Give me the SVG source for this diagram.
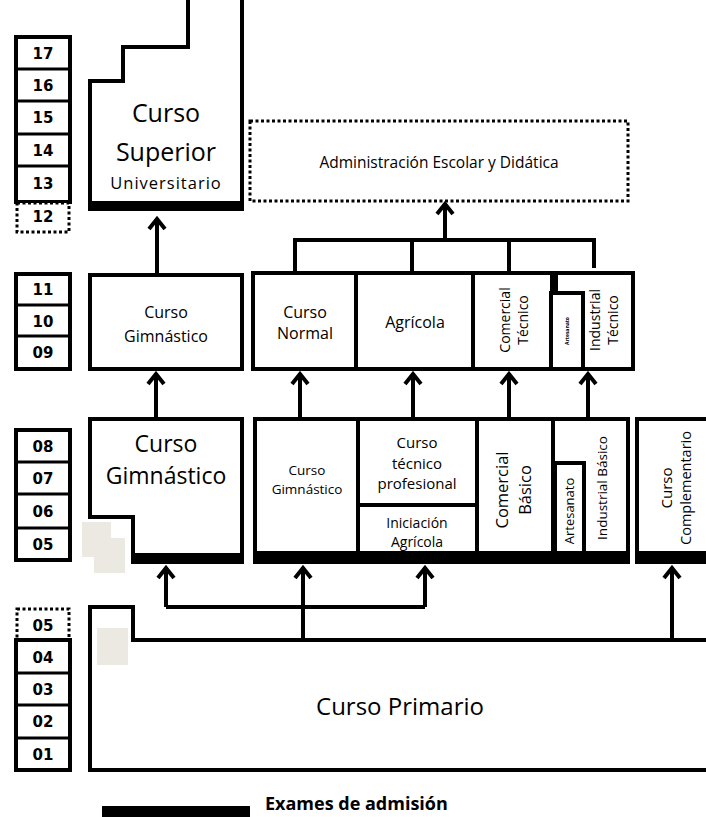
<svg xmlns="http://www.w3.org/2000/svg" width="706" height="817" viewBox="0 0 706 817">
<defs>
<style>
.bx{fill:#fff;stroke:#000;stroke-width:4}
.ln{fill:none;stroke:#000;stroke-width:4}
.dv{fill:none;stroke:#000;stroke-width:3}
.dot{fill:#fff;stroke:#000;stroke-width:3;stroke-dasharray:3 2.5}
.bar{fill:#000}
.gr{fill:#ebe9e1}
.num{font-family:"DejaVu Sans",sans-serif;font-weight:bold;font-size:15px;text-anchor:middle;fill:#000}
.t{font-family:"Open Sans","Noto Sans",sans-serif;text-anchor:middle;fill:#000}
.ar{fill:none;stroke:#000;stroke-width:4}
</style>
<marker id="ah" viewBox="-14 -10 16 20" markerWidth="16" markerHeight="20" refX="0" refY="0" orient="auto" markerUnits="userSpaceOnUse">
<path d="M-11,-8 L-1,0 L-11,8" fill="none" stroke="#000" stroke-width="4"/>
</marker>
</defs>

<g id="years">
<rect class="bx" x="16" y="37" width="54" height="165"/>
<path class="dv" d="M16,69H70M16,101H70M16,134H70M16,166H70"/>
<rect class="dot" x="17" y="203" width="52" height="29"/>
<text class="num" x="43" y="59">17</text>
<text class="num" x="43" y="91">16</text>
<text class="num" x="43" y="123">15</text>
<text class="num" x="43" y="156">14</text>
<text class="num" x="43" y="189">13</text>
<text class="num" x="43" y="222">12</text>

<rect class="bx" x="16" y="274" width="54" height="95"/>
<path class="dv" d="M16,305H70M16,336H70"/>
<text class="num" x="43" y="295">11</text>
<text class="num" x="43" y="327">10</text>
<text class="num" x="43" y="358">09</text>

<rect class="bx" x="16" y="430" width="54" height="130"/>
<path class="dv" d="M16,462H70M16,494H70M16,528H70"/>
<text class="num" x="43" y="452">08</text>
<text class="num" x="43" y="484">07</text>
<text class="num" x="43" y="517">06</text>
<text class="num" x="43" y="550">05</text>

<rect class="dot" x="17" y="609" width="52" height="31"/>
<rect class="bx" x="16" y="640" width="54" height="130"/>
<path class="dv" d="M16,673H70M16,705H70M16,738H70"/>
<text class="num" x="43" y="631">05</text>
<text class="num" x="43" y="663">04</text>
<text class="num" x="43" y="695">03</text>
<text class="num" x="43" y="727">02</text>
<text class="num" x="43" y="760">01</text>
</g>

<g id="curso-superior">
<path class="bx" d="M90,205 L90,81 L123,81 L123,47 L188,47 L188,-5 L242,-5 L242,205 Z"/>
<rect class="bar" x="88" y="201" width="156" height="10"/>
<text class="t" x="166" y="122" font-size="25">Curso</text>
<text class="t" x="166" y="161" font-size="25">Superior</text>
<text class="t" x="166" y="189" font-size="16.5" letter-spacing="1">Universitario</text>
</g>

<g id="administracion">
<rect class="dot" x="250" y="121" width="378" height="80"/>
<text class="t" x="439" y="168" font-size="15.5">Administración Escolar y Didática</text>
</g>

<g id="gimnastico-sup">
<rect class="bx" x="90" y="275" width="152" height="94"/>
<text class="t" x="166" y="318" font-size="16">Curso</text>
<text class="t" x="166" y="342" font-size="16">Gimnástico</text>
</g>

<g id="curso-normal">
<rect class="bx" x="253" y="273" width="103" height="96"/>
<text class="t" x="305" y="318" font-size="16">Curso</text>
<text class="t" x="305" y="339" font-size="16">Normal</text>
</g>
<g id="agricola">
<rect class="bx" x="356" y="273" width="117" height="96"/>
<text class="t" x="415" y="328" font-size="16">Agrícola</text>
</g>
<g id="comercial-tecnico">
<rect class="bx" x="473" y="273" width="79" height="96"/>
<text class="t" font-size="14" transform="translate(510,320) rotate(-90)">Comercial</text>
<text class="t" font-size="14" transform="translate(528,320) rotate(-90)">Técnico</text>
</g>
<g id="industrial-tecnico">
<rect class="bx" x="556" y="273" width="77" height="96"/>
<text class="t" font-size="14" transform="translate(600,320) rotate(-90)">Industrial</text>
<text class="t" font-size="14" transform="translate(618,320) rotate(-90)">Técnico</text>
</g>
<g id="artesanato-tecnico">
<rect class="bx" x="551" y="293" width="32" height="76"/>
<text class="t" font-size="5" font-weight="bold" transform="translate(569,331) rotate(-90)">Artesanato</text>
</g>

<g id="gimnastico-inf">
<path class="bx" d="M90,419 L242,419 L242,555 L133,555 L133,517 L90,517 Z"/>
<rect class="bar" x="131" y="553" width="113" height="11"/>
<rect class="gr" x="82" y="522" width="29" height="35"/>
<rect class="gr" x="94" y="538" width="31" height="35"/>
<text class="t" x="166" y="452" font-size="23">Curso</text>
<text class="t" x="166" y="484" font-size="23">Gimnástico</text>
</g>

<g id="gimnastico-basico">
<rect class="bx" x="255" y="419" width="103" height="134"/>
<text class="t" x="307" y="475" font-size="13.5">Curso</text>
<text class="t" x="307" y="494" font-size="13.5">Gimnástico</text>
</g>
<g id="tecnico-profesional">
<rect class="bx" x="358" y="419" width="119" height="86"/>
<text class="t" x="417" y="448" font-size="15">Curso</text>
<text class="t" x="417" y="469" font-size="15">técnico</text>
<text class="t" x="417" y="489" font-size="15">profesional</text>
</g>
<g id="iniciacion-agricola">
<rect class="bx" x="358" y="505" width="119" height="48"/>
<text class="t" x="417" y="528" font-size="14">Iniciación</text>
<text class="t" x="417" y="547" font-size="14">Agrícola</text>
</g>
<g id="comercial-basico">
<rect class="bx" x="477" y="419" width="76" height="134"/>
<text class="t" font-size="16.5" transform="translate(508,490) rotate(-90)">Comercial</text>
<text class="t" font-size="16.5" transform="translate(531,490) rotate(-90)">Básico</text>
</g>
<g id="industrial-basico">
<rect class="bx" x="553" y="419" width="75" height="134"/>
<text class="t" font-size="13.5" transform="translate(607,488) rotate(-90)">Industrial Básico</text>
</g>
<g id="artesanato-basico">
<rect class="bx" x="555" y="463" width="29" height="90"/>
<text class="t" font-size="13" transform="translate(574,511) rotate(-90)">Artesanato</text>
</g>
<rect class="bar" x="253" y="553" width="377" height="11"/>

<g id="curso-complementario">
<rect class="bx" x="637" y="419" width="90" height="134"/>
<rect class="bar" x="635" y="553" width="80" height="11"/>
<text class="t" font-size="15" transform="translate(672,488) rotate(-90)">Curso</text>
<text class="t" font-size="14.5" transform="translate(691,488) rotate(-90)">Complementario</text>
</g>

<g id="curso-primario">
<path class="bx" d="M720,640 L133,640 L133,607 L90,607 L90,770 L720,770"/>
<rect class="gr" x="97" y="628" width="31" height="37"/>
<text class="t" x="400" y="715" font-size="24">Curso Primario</text>
</g>

<g id="connectors">
<path class="ar" d="M157,275 V218" marker-end="url(#ah)"/>
<path class="ar" d="M295,273 V240 H594 V268 M412,273 V240 M509,273 V240"/>
<path class="ar" d="M445,240 V203" marker-end="url(#ah)"/>
<path class="ar" d="M156,419 V373" marker-end="url(#ah)"/>
<path class="ar" d="M300,419 V373" marker-end="url(#ah)"/>
<path class="ar" d="M413,419 V373" marker-end="url(#ah)"/>
<path class="ar" d="M509,419 V373" marker-end="url(#ah)"/>
<path class="ar" d="M588,419 V373" marker-end="url(#ah)"/>
<path class="ar" d="M166,607 H425"/>
<path class="ar" d="M166,607 V567" marker-end="url(#ah)"/>
<path class="ar" d="M425,607 V567" marker-end="url(#ah)"/>
<path class="ar" d="M303,640 V567" marker-end="url(#ah)"/>
<path class="ar" d="M672,640 V567" marker-end="url(#ah)"/>
</g>

<g id="legend">
<rect class="bar" x="102" y="806" width="148" height="11"/>
<text x="265" y="810" font-family="'Open Sans','Noto Sans',sans-serif" font-weight="bold" font-size="18" fill="#000">Exames de admisión</text>
</g>
</svg>
